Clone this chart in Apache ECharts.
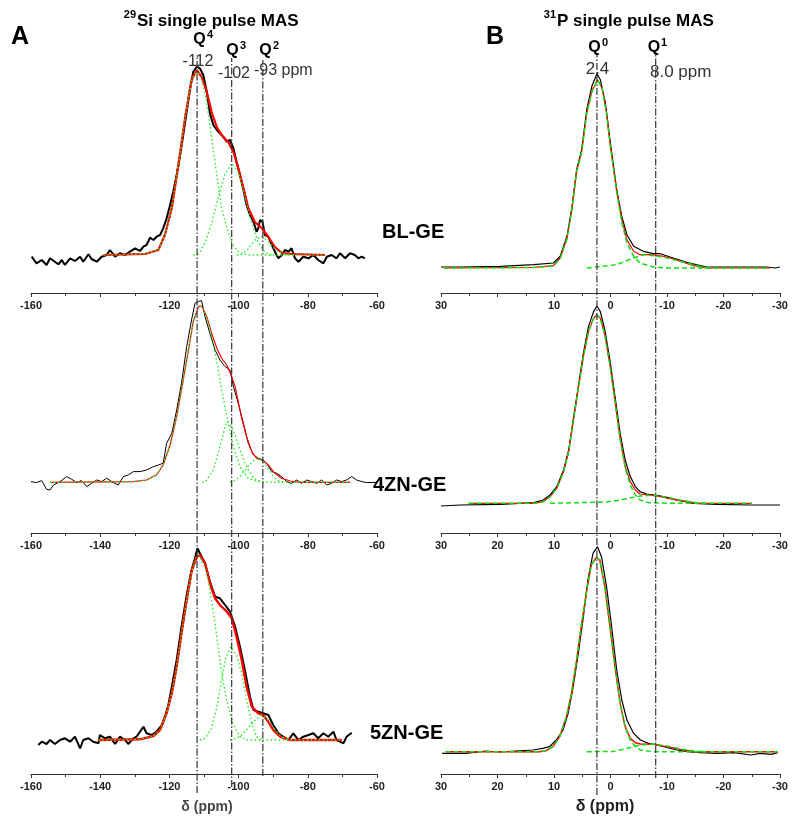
<!DOCTYPE html>
<html><head><meta charset="utf-8">
<script src="https://cdn.jsdelivr.net/npm/echarts/dist/echarts.min.js"></script>
<style>html,body{margin:0;padding:0;background:#fff}#c{width:800px;height:823px}</style>
</head><body><div id="c"></div>
<script>
// ---------- DATA (ppm, intensity in arbitrary units above baseline) ----------
// 29Si, BL-GE
const siBL_exp = [[-159.8,-1.7],[-158.4,-8.3],[-156.9,-5],[-155.5,-10],[-154.5,-3.3],[-153.1,-6.7],[-152.1,-9.3],[-151.1,-5],[-150.2,-10],[-148.7,-3.3],[-147.3,-6],[-145.8,-1.7],[-144.9,-6.7],[-143.4,0.7],[-142.5,-4],[-141.0,-6.7],[-139.6,-1.7],[-138.1,0],[-137.2,5],[-135.7,-1.7],[-134.3,1.7],[-132.8,0],[-131.4,3.3],[-129.9,6.7],[-128.5,4],[-127.5,8.3],[-126.6,10],[-125.6,17.3],[-124.6,15],[-123.7,18.3],[-122.7,20],[-121.8,26.7],[-120.8,36.7],[-119.8,50],[-118.9,63.3],[-117.9,80],[-116.9,100],[-116.0,120],[-115.0,143.3],[-114.0,166.7],[-113.1,183.3],[-112.1,188.3],[-111.2,186.7],[-110.2,180],[-109.2,163.3],[-108.3,141.7],[-107.3,130],[-106.3,125],[-104.9,120],[-103.4,113.3],[-102.5,115],[-101.5,106.7],[-100.6,93.3],[-99.6,80],[-98.6,65],[-97.7,50],[-96.7,40],[-95.7,33.3],[-94.8,23.3],[-94.3,26.7],[-93.8,35],[-93.1,33.3],[-92.4,20],[-91.4,18.3],[-90.4,10],[-89.5,3.3],[-88.5,-3.3],[-87.5,0],[-86.6,5],[-85.6,3.3],[-84.7,6.7],[-83.7,-3.3],[-82.7,-6.7],[-81.3,-1.7],[-79.8,-3.3],[-78.4,0],[-77.0,-5],[-75.5,-8.3],[-74.5,-1.7],[-73.1,0],[-71.7,-3.3],[-70.7,1.7],[-69.2,-3.3],[-67.8,1.7],[-66.4,0],[-65.4,-3.3],[-64.4,-1.7],[-63.5,-3.3]];
const siBL_fit = [[-139.1,0],[-127.0,1],[-123.2,5],[-121.3,20],[-119.3,46.7],[-117.4,90],[-115.5,136.7],[-113.6,175],[-112.1,185],[-110.7,178],[-109.2,163],[-107.8,143],[-106.3,128],[-104.9,120],[-103.0,113],[-101.5,103],[-100.1,87],[-98.6,67],[-97.2,47],[-95.3,33],[-93.3,27],[-91.4,18],[-89.5,8],[-87.5,2],[-84.7,1],[-75.0,0]];
const siBL_q4 = [[-139.1,0],[-127.0,1],[-123.2,5],[-121.3,20],[-119.3,46.7],[-117.4,90],[-115.5,136.7],[-113.6,175],[-112.1,185],[-110.7,177],[-109.3,155],[-107.8,117],[-106.3,80],[-104.9,47],[-103.4,27],[-101.9,12],[-100.4,4],[-98.9,1],[-97.0,0],[-75.0,0]];
const siBL_q3 = [[-113.0,0],[-111.5,1],[-109.6,13],[-107.7,33],[-105.7,60],[-104.0,80],[-102.0,91.7],[-100.1,83],[-98.3,60],[-96.3,33],[-94.4,13],[-92.5,3],[-90.5,0]];
const siBL_q2 = [[-100.5,0],[-99.1,0.7],[-97.2,6],[-95.3,15],[-93.3,18.3],[-91.4,13.3],[-89.5,6],[-88.5,3.3],[-86.6,0.7],[-85.0,0]];
// 29Si, 4ZN-GE
const siZN4_exp = [[-160.0,0.7],[-158.4,-0.3],[-156.9,1.7],[-155.5,-7],[-154.5,-7.7],[-153.5,-2.7],[-151.6,0.7],[-149.7,5.7],[-148.2,3],[-146.8,-0.3],[-145.4,1.7],[-143.9,-4.3],[-142.5,-1],[-141.0,2.3],[-139.6,0.7],[-138.1,4],[-136.2,-0.3],[-134.8,-2.7],[-133.3,5.7],[-131.9,7.3],[-130.4,10.7],[-128.5,10.7],[-126.6,12.3],[-124.6,15.7],[-123.2,17.3],[-121.8,19],[-120.8,39],[-119.3,49],[-117.9,72.3],[-116.5,99],[-115.0,135.7],[-113.6,162.3],[-112.6,179],[-111.6,180.7],[-110.7,181.7],[-109.7,165.7],[-108.3,149],[-106.8,132.3],[-105.4,122.3],[-103.9,115.7],[-102.5,112.3],[-101.5,95.7],[-100.1,79],[-98.6,59],[-97.2,39],[-95.7,27.3],[-94.3,24],[-92.9,22.3],[-91.9,19],[-90.4,10.7],[-89.0,9],[-87.6,5.7],[-86.1,0.7],[-84.7,-1],[-83.2,2.3],[-81.8,-1],[-80.3,2.3],[-78.9,0.7],[-77.4,-1],[-76.0,2.3],[-74.5,-2.7],[-73.1,-1],[-71.7,2.3],[-70.2,0.7],[-68.8,2.3],[-67.3,5.7],[-65.9,2.3],[-64.4,0.7],[-63.0,-0.3],[-60.1,0]];
const siZN4_fit = [[-154.5,0],[-130.4,0.7],[-126.6,2.3],[-123.7,7.3],[-121.8,17.3],[-119.8,37.3],[-117.9,65.7],[-116.0,102.3],[-114.5,132.3],[-113.1,160.7],[-111.6,175.7],[-110.7,176.3],[-109.2,165.7],[-107.8,149],[-106.3,134],[-104.9,124],[-103.4,117.3],[-102.0,105.7],[-101.0,95.7],[-100.1,80.7],[-99.1,64],[-97.7,45.7],[-96.2,30.7],[-94.8,24],[-92.9,21.7],[-91.4,17.3],[-89.5,9],[-87.6,4],[-85.1,1.3],[-82.3,0],[-67.8,0]];
const siZN4_q4 = [[-154.5,0],[-130.4,0.7],[-126.6,2.3],[-123.7,7.3],[-121.8,17.3],[-119.8,37.3],[-117.9,65.7],[-116.0,102.3],[-114.5,132.3],[-113.1,160.7],[-111.6,175.7],[-110.7,176.3],[-109.2,165.7],[-107.8,146],[-106.3,120.7],[-104.9,92.3],[-103.4,65.7],[-101.5,35.7],[-99.6,15.7],[-97.2,4],[-93.8,0],[-67.8,0]];
const siZN4_q3 = [[-110.5,0],[-109.7,0.3],[-107.3,12.3],[-105.4,35.7],[-103.9,55.7],[-103.2,60.7],[-101.5,52.3],[-99.6,32.3],[-97.7,15.7],[-95.7,4],[-92.9,0]];
const siZN4_q2 = [[-102.5,0],[-101.5,0.7],[-99.6,5.7],[-97.7,14],[-95.7,21.7],[-94.3,24],[-92.9,20.7],[-90.9,10.7],[-89.0,2.3],[-87.1,0]];
// 29Si, 5ZN-GE
const siZN5_exp = [[-157.9,-5],[-156.9,-1.7],[-155.5,-4],[-154.5,0],[-153.1,-4],[-151.6,0],[-150.2,1.7],[-148.7,-1.7],[-147.3,3.3],[-145.8,-8.3],[-144.9,0],[-143.4,1.7],[-142.0,-1.7],[-140.5,-3.3],[-140.1,5],[-138.6,1.7],[-137.2,3.3],[-135.7,-4],[-134.3,3.3],[-132.8,0],[-131.9,-4],[-130.4,1.7],[-129.5,3.3],[-128.5,8.3],[-127.5,13.3],[-126.6,6.7],[-125.1,5],[-123.7,8.3],[-122.2,15],[-121.3,23.3],[-120.3,35],[-119.3,53.3],[-117.9,80],[-116.5,113.3],[-115.0,145],[-113.6,170],[-112.6,181.7],[-111.9,191.7],[-111.2,186.7],[-109.7,176.7],[-108.3,158.3],[-106.8,143.3],[-105.4,141.7],[-103.9,135],[-102.5,128.3],[-101.0,113.3],[-99.6,93.3],[-98.2,70],[-96.7,43.3],[-95.7,30],[-94.3,28.3],[-92.9,26.7],[-91.4,25],[-90.0,15],[-88.5,6.7],[-87.1,3.3],[-85.6,0],[-84.2,6.7],[-82.7,0],[-81.3,3.3],[-79.8,5],[-78.4,6.7],[-77.0,1.7],[-75.5,6.7],[-74.1,3.3],[-72.6,8.3],[-71.7,0],[-70.7,-1.7],[-69.7,-3.3],[-68.8,3.3],[-67.3,7.3]];
const siZN5_fit = [[-140.5,0],[-128.5,0.7],[-124.6,4],[-122.7,10],[-120.8,26.7],[-119.3,46.7],[-117.9,73.3],[-116.5,106.7],[-115.0,140],[-113.6,168.3],[-112.1,183.3],[-111.2,185],[-109.7,176.7],[-108.3,156.7],[-106.8,141.7],[-105.4,135],[-103.4,128.3],[-102.0,121.7],[-100.6,103.3],[-99.1,80],[-97.7,53.3],[-96.2,33.3],[-94.3,26.7],[-92.9,25],[-91.4,18.3],[-90.0,10],[-88.0,3.3],[-85.1,0],[-70.2,0]];
const siZN5_q4 = [[-140.5,0],[-128.5,0.7],[-124.6,4],[-122.7,10],[-120.8,26.7],[-119.3,46.7],[-117.9,73.3],[-116.5,106.7],[-115.0,140],[-113.6,168.3],[-112.1,183.3],[-111.4,185],[-109.2,168.3],[-108.3,150],[-107.3,128.3],[-106.3,103.3],[-105.4,80],[-104.4,56.7],[-103.0,33.3],[-101.5,15],[-99.6,3.3],[-97.7,0],[-70.2,0]];
const siZN5_q3 = [[-111.2,0],[-109.5,2],[-107.8,12],[-106.3,33],[-104.9,60],[-103.7,82],[-102.2,93.3],[-100.6,85],[-99.1,66.7],[-97.7,40],[-96.2,16.7],[-94.8,3.3],[-92.9,0]];
const siZN5_q2 = [[-102.5,0],[-101.5,0.7],[-99.6,3.3],[-97.7,10],[-95.7,18.3],[-93.3,25],[-91.4,20],[-89.5,10],[-87.6,3.3],[-85.1,0]];
// 31P, BL-GE
const pBL_exp = [[30,1],[26.6,1],[19.5,1.7],[13.6,3.3],[10.1,5],[8.9,11.7],[7.7,31.7],[6.8,61.7],[6.0,98.3],[5.1,118.3],[4.2,158.3],[3.3,181.7],[2.4,194.3],[1.8,188.3],[0.9,165],[0.1,128.3],[-1.1,78.3],[-2.0,51.7],[-2.9,33.3],[-4.1,21.7],[-5.8,16.7],[-7.6,14.3],[-8.8,14.3],[-11.1,10],[-13.5,5.7],[-17.0,1],[-21.7,1],[-27.6,1],[-29.1,0],[-30,1]];
const pBL_fit = [[29.5,0],[13.6,0.7],[10.1,2.3],[8.9,10],[7.7,30],[6.8,60],[6.0,96.7],[5.1,116.7],[4.2,155],[3.3,176.7],[2.3,188.3],[1.5,180],[0.7,155],[0.1,125],[-1.1,76.7],[-2.0,48.3],[-2.9,28.3],[-4.1,16.7],[-5.2,13.3],[-7.6,13.3],[-10.0,11],[-12.3,6.7],[-14.7,2.3],[-17.0,0],[-28.2,0]];
const pBL_q0 = [[29.5,0],[13.6,0.5],[10.1,2],[8.9,9.5],[7.7,29],[6.8,59],[6.0,96],[5.1,116],[4.2,155],[3.3,176],[2.3,188],[1.5,180],[0.7,155],[0.1,125],[-1.1,76],[-2.0,46],[-2.9,25],[-4.1,11.7],[-5.2,5],[-7.6,1],[-10.0,0],[-28.2,0]];
const pBL_q1 = [[4.2,0],[-1.1,3.3],[-4.1,10],[-5.8,13.3],[-7.6,12.3],[-10.0,10],[-12.3,6.7],[-14.7,3.3],[-17.0,0]];
// 31P, 4ZN-GE
const pZN4_exp = [[30,-2.7],[26.6,-1.7],[19.5,-1],[13.6,0.7],[11.9,3.3],[10.7,8.3],[9.5,16.7],[8.3,33.3],[7.4,53.3],[6.6,83.3],[5.7,116.7],[4.8,150],[3.9,176.7],[3.0,191.7],[2.4,197.3],[1.8,191.7],[1.0,173.3],[0.1,143.3],[-0.8,106.7],[-1.7,70],[-2.6,43.3],[-3.5,26.7],[-4.4,16.7],[-5.2,11.7],[-6.4,9.3],[-8.2,8],[-10.0,6],[-12.3,2.7],[-14.7,0],[-18.8,-1],[-24.7,-1.7],[-30,-1.7]];
const pZN4_fit = [[25.1,0],[13.6,0],[11.9,1.7],[10.7,6.7],[9.5,15],[8.3,31.7],[7.4,51.7],[6.6,81.7],[5.7,115],[4.8,146.7],[3.9,171.7],[3.0,185],[2.4,188.3],[1.8,185],[1.0,168.3],[0.1,138.3],[-0.8,101.7],[-1.7,65],[-2.6,36.7],[-3.5,21.7],[-4.4,13.3],[-5.2,9.3],[-7.0,8.3],[-8.8,6.7],[-11.1,4],[-13.5,1.7],[-15.8,0],[-25.0,0]];
const pZN4_q0 = [[25.1,0],[13.6,0],[11.9,1.5],[10.7,6.5],[9.5,15],[8.3,31.5],[7.4,51.5],[6.6,81.5],[5.7,115],[4.8,146.7],[3.9,171.7],[3.0,185],[2.4,188.3],[1.8,185],[1.0,168.3],[0.1,138.3],[-0.8,101.7],[-1.7,64],[-2.6,35],[-3.5,18.3],[-4.4,8.3],[-5.2,3.3],[-6.7,0.7],[-10.0,0],[-25.0,0]];
const pZN4_q1 = [[10.7,0],[0.7,1.3],[-1.7,3.3],[-4.1,6],[-5.8,7.7],[-7.6,7.7],[-10.0,6],[-12.3,3.3],[-14.7,1],[-17.0,0]];
// 31P, 5ZN-GE
const pZN5_exp = [[29.8,-1.7],[25.6,-1.7],[22.1,0.7],[19.7,-0.3],[16.7,0.7],[13.7,1.7],[12.0,3.3],[10.8,5],[9.6,11.7],[8.4,21.7],[7.5,38.3],[6.6,65],[5.7,98.3],[4.8,135],[4.0,171.7],[3.1,198.3],[2.3,205],[1.6,195],[0.7,165],[-0.2,125],[-1.1,81.7],[-2.0,51.7],[-2.9,31.7],[-4.1,18.3],[-5.3,11.7],[-6.7,8.3],[-8.2,6.7],[-10.0,4.3],[-11.8,1.7],[-13.6,0],[-15.9,-1],[-18.9,-1.7],[-21.9,-1],[-24.8,-3.3],[-26.6,-1.7],[-28.4,-2.7],[-29.6,-1]];
const pZN5_fit = [[29.2,0],[12.6,0],[11.4,1],[10.2,5],[9.0,15],[7.8,35],[6.9,58.3],[6.0,91.7],[5.1,128.3],[4.2,161.7],[3.4,186.7],[2.5,194.3],[1.9,191.7],[1.0,165],[0.1,125],[-0.8,85],[-1.7,48.3],[-2.6,25],[-3.5,13.3],[-4.4,9],[-5.3,7.7],[-7.6,7.3],[-10.0,5],[-12.4,2.3],[-14.8,0],[-29.6,0]];
const pZN5_q0 = [[29.2,0],[12.6,0],[11.4,1],[10.2,5],[9.0,15],[7.8,35],[6.9,58.3],[6.0,91.7],[5.1,128.3],[4.2,161.7],[3.4,186.7],[2.5,194.3],[1.9,191.7],[1.0,165],[0.1,125],[-0.8,85],[-1.7,48.3],[-2.6,24],[-3.5,11.7],[-4.4,5],[-5.3,1.7],[-7.6,0],[-29.6,0]];
const pZN5_q1 = [[4.2,0],[-0.5,0.3],[-2.9,3.3],[-4.1,5],[-5.3,6.7],[-7.6,7.7],[-10.0,5.7],[-12.4,2.7],[-14.8,0.7],[-17.1,0]];

const siShifts = [-112, -102, -93];
const pShifts = [2.4, -8.0];
const sampleNames = ['BL-GE', '4ZN-GE', '5ZN-GE'];
const siTicks = [-160, -140, -120, -100, -80, -60];
const pTicks = [30, 20, 10, 0, -10, -20, -30];

// ---------- LAYOUT ----------
const FONT = 'Arial, "Liberation Sans", Helvetica, sans-serif';
const panels = [
  {side:'L', left:31, width:346, top:55,  axisY:293, ymin:-38,   exp:siBL_exp,  fit:siBL_fit,  comps:[siBL_q4, siBL_q3, siBL_q2],   bw:2.0, rw:2.2, hide:-140},
  {side:'L', left:31, width:346, top:295, axisY:533, ymin:-50.7, exp:siZN4_exp, fit:siZN4_fit, comps:[siZN4_q4, siZN4_q3, siZN4_q2], bw:1.0, rw:1.2},
  {side:'L', left:31, width:346, top:540, axisY:774, ymin:-34,   exp:siZN5_exp, fit:siZN5_fit, comps:[siZN5_q4, siZN5_q3, siZN5_q2], bw:2.0, rw:2.4},
  {side:'R', left:441, width:339, top:55,  axisY:293, ymin:-25,   exp:pBL_exp,  fit:pBL_fit,  comps:[pBL_q0, pBL_q1],   bw:1.2, rw:1.2, hide:20},
  {side:'R', left:441, width:339, top:295, axisY:533, ymin:-29.7, exp:pZN4_exp, fit:pZN4_fit, comps:[pZN4_q0, pZN4_q1], bw:1.2, rw:1.2},
  {side:'R', left:441, width:339, top:540, axisY:774, ymin:-22.3, exp:pZN5_exp, fit:pZN5_fit, comps:[pZN5_q0, pZN5_q1], bw:1.2, rw:1.4}
];

const grids = [], xAxes = [], yAxes = [], series = [];
panels.forEach((p, i) => {
  const h = p.axisY - p.top;
  grids.push({left:p.left, width:p.width, top:p.top, height:h});
  const isL = p.side === 'L';
  xAxes.push({
    type:'value', gridIndex:i,
    min: isL ? -160 : -30, max: isL ? -60 : 30, interval: isL ? 20 : 10, inverse: !isL,
    axisLine:{show:true, onZero:false, lineStyle:{color:'#333', width:1}},
    axisTick:{show:true, length:4, lineStyle:{color:'#333'}},
    minorTick:{show:true, splitNumber:2, length:3, lineStyle:{color:'#333'}},
    splitLine:{show:false},
    axisLabel:{margin:7, color:'#222', fontSize:11, fontWeight:'bold', fontFamily:FONT,
      formatter: v => (p.hide !== undefined && v === p.hide) ? '' : String(v)}
  });
  yAxes.push({type:'value', gridIndex:i, show:false, min:p.ymin, max:p.ymin + h});
  series.push({type:'line', xAxisIndex:i, yAxisIndex:i, data:p.exp, symbol:'none', z:2,
    lineStyle:{color:'#000', width:p.bw}});
  series.push({type:'line', xAxisIndex:i, yAxisIndex:i, data:p.fit, symbol:'none', z:3,
    lineStyle:{color:'#ff0000', width:p.rw}});
  p.comps.forEach(c => series.push({type:'line', xAxisIndex:i, yAxisIndex:i, data:c, symbol:'none', z:4,
    lineStyle: isL ? {color:'#22ee22', width:1.4, type:[1.5,2.5]} : {color:'#11dd11', width:1.5, type:[5,3]}}));
});

// overlay grids for the chemical-shift reference lines (value = 823 - pixel y)
const ovL = grids.length, ovR = grids.length + 1;
grids.push({left:31, width:346, top:0, height:823});
grids.push({left:441, width:339, top:0, height:823});
xAxes.push({type:'value', gridIndex:ovL, min:-160, max:-60, show:false});
xAxes.push({type:'value', gridIndex:ovR, min:-30, max:30, inverse:true, show:false});
yAxes.push({type:'value', gridIndex:ovL, min:0, max:823, show:false});
yAxes.push({type:'value', gridIndex:ovR, min:0, max:823, show:false});
const siExt = [[30, 768], [36, 765], [47, 763]];
const pExt = [[28, 770], [45, 771]];
const refStyle = {color:'#333', width:1.2, type:[7,2,1.5,2]};
siShifts.forEach((s, k) => series.push({type:'line', xAxisIndex:ovL, yAxisIndex:ovL, symbol:'none', z:6,
  data:[[s, siExt[k][0]], [s, siExt[k][1]]], lineStyle:refStyle}));
pShifts.forEach((s, k) => series.push({type:'line', xAxisIndex:ovR, yAxisIndex:ovR, symbol:'none', z:6,
  data:[[s, pExt[k][0]], [s, pExt[k][1]]], lineStyle:refStyle}));

// ---------- TEXT ----------
function T(text, x, y, font, opts) {
  opts = opts || {};
  return {type:'text', x:x, y:y, z:10, silent:true,
    style:{text:text, font:font, fill:opts.fill || '#111', textAlign:opts.align || 'left', textVerticalAlign:'middle'}};
}
const B = s => 'bold ' + s + 'px ' + FONT;
const N = s => s + 'px ' + FONT;
const graphics = [
  T('A', 20, 37, B(25), {align:'center', fill:'#000'}),
  T('B', 495, 37, B(25), {align:'center', fill:'#000'}),
  T('29', 136, 15, B(11), {align:'right', fill:'#000'}),
  T('Si single pulse MAS', 137, 21, B(17), {fill:'#000'}),
  T('31', 556, 15, B(11), {align:'right', fill:'#000'}),
  T('P single pulse MAS', 557, 21, B(17), {fill:'#000'}),
  T('Q', 199.5, 40, B(16), {align:'center', fill:'#000'}), T('4', 207, 35, B(11), {fill:'#000'}),
  T('Q', 232.5, 51, B(16), {align:'center', fill:'#000'}), T('3', 240, 46, B(11), {fill:'#000'}),
  T('Q', 265.5, 51, B(16), {align:'center', fill:'#000'}), T('2', 273, 46, B(11), {fill:'#000'}),
  T('-112', 198, 62, N(16), {align:'center', fill:'#333'}),
  T('-102', 234, 74, N(16), {align:'center', fill:'#333'}),
  T('-93 ppm', 254, 71, N(16), {fill:'#333'}),
  T('Q', 594.5, 48, B(16), {align:'center', fill:'#000'}), T('0', 602, 43, B(11), {fill:'#000'}),
  T('Q', 654, 48, B(16), {align:'center', fill:'#000'}), T('1', 661, 43, B(11), {fill:'#000'}),
  T('2.4', 597.5, 69, N(17), {align:'center', fill:'#333'}),
  T('8.0 ppm', 650, 72, N(17), {fill:'#333'}),
  T(sampleNames[0], 382, 232, B(20), {fill:'#000'}),
  T(sampleNames[1], 373, 485, B(20), {fill:'#000'}),
  T(sampleNames[2], 370, 733, B(20), {fill:'#000'}),
  T('δ (ppm)', 207, 807, B(14), {align:'center', fill:'#444'}),
  T('δ (ppm)', 605, 807, B(16), {align:'center', fill:'#222'})
];

const chart = echarts.init(document.getElementById('c'), null, {renderer:'canvas'});
chart.setOption({
  animation:false,
  backgroundColor:'#fff',
  grid:grids, xAxis:xAxes, yAxis:yAxes, series:series,
  graphic:graphics
});
</script>
</body></html>
